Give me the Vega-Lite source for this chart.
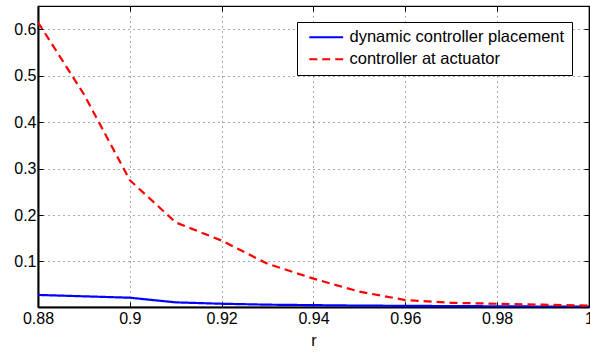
{
  "$schema": "https://vega.github.io/schema/vega-lite/v6.json",
  "width": 551,
  "height": 301,
  "autosize": {"type": "none"},
  "padding": {"left": 38, "top": 6, "right": 1, "bottom": 48},
  "background": "white",
  "config": {
    "font": "Liberation Sans",
    "view": {"stroke": "black", "strokeWidth": 1.2}
  },
  "data": {
    "values": [
      {"r": 0.88, "v": 0.028, "s": "dynamic controller placement"},
      {"r": 0.89, "v": 0.025, "s": "dynamic controller placement"},
      {"r": 0.90, "v": 0.022, "s": "dynamic controller placement"},
      {"r": 0.91, "v": 0.012, "s": "dynamic controller placement"},
      {"r": 0.92, "v": 0.009, "s": "dynamic controller placement"},
      {"r": 0.93, "v": 0.007, "s": "dynamic controller placement"},
      {"r": 0.94, "v": 0.006, "s": "dynamic controller placement"},
      {"r": 0.95, "v": 0.005, "s": "dynamic controller placement"},
      {"r": 0.96, "v": 0.0045, "s": "dynamic controller placement"},
      {"r": 0.97, "v": 0.004, "s": "dynamic controller placement"},
      {"r": 0.98, "v": 0.0035, "s": "dynamic controller placement"},
      {"r": 0.99, "v": 0.003, "s": "dynamic controller placement"},
      {"r": 1.00, "v": 0.003, "s": "dynamic controller placement"},
      {"r": 0.88, "v": 0.615, "s": "controller at actuator"},
      {"r": 0.89, "v": 0.46, "s": "controller at actuator"},
      {"r": 0.90, "v": 0.275, "s": "controller at actuator"},
      {"r": 0.91, "v": 0.184, "s": "controller at actuator"},
      {"r": 0.92, "v": 0.145, "s": "controller at actuator"},
      {"r": 0.93, "v": 0.095, "s": "controller at actuator"},
      {"r": 0.94, "v": 0.063, "s": "controller at actuator"},
      {"r": 0.95, "v": 0.035, "s": "controller at actuator"},
      {"r": 0.96, "v": 0.017, "s": "controller at actuator"},
      {"r": 0.97, "v": 0.011, "s": "controller at actuator"},
      {"r": 0.98, "v": 0.009, "s": "controller at actuator"},
      {"r": 0.99, "v": 0.007, "s": "controller at actuator"},
      {"r": 1.00, "v": 0.005, "s": "controller at actuator"}
    ]
  },
  "resolve": {"axis": {"x": "independent", "y": "independent"}},
  "layer": [
    {
      "mark": {"type": "line", "opacity": 0},
      "encoding": {
        "x": {
          "field": "r", "type": "quantitative",
          "scale": {"domain": [0.88, 1.0], "nice": false, "zero": false},
          "axis": {
            "orient": "top", "title": null, "labels": false, "grid": false,
            "values": [0.88, 0.9, 0.92, 0.94, 0.96, 0.98, 1.0],
            "tickSize": -5, "tickColor": "black", "domain": true, "domainColor": "black", "domainWidth": 1.2
          }
        },
        "y": {
          "field": "v", "type": "quantitative",
          "scale": {"domain": [0.002, 0.65], "nice": false, "zero": false},
          "axis": {
            "orient": "right", "title": null, "labels": false, "grid": false,
            "values": [0.1, 0.2, 0.3, 0.4, 0.5, 0.6],
            "tickSize": -5, "tickColor": "black", "domain": true, "domainColor": "black", "domainWidth": 1.2
          }
        }
      }
    },
    {
      "mark": {"type": "line", "strokeWidth": 2.2, "clip": true},
      "encoding": {
        "x": {
          "field": "r", "type": "quantitative",
          "scale": {"domain": [0.88, 1.0], "nice": false, "zero": false},
          "axis": {
            "orient": "bottom",
            "title": "r", "titleFont": "Liberation Sans", "titleFontWeight": "normal", "titleFontSize": 16, "titlePadding": 6,
            "values": [0.88, 0.9, 0.92, 0.94, 0.96, 0.98, 1.0],
            "labelExpr": "datum.value == 1 ? '1' : format(datum.value, '.2~f')",
            "labelFontSize": 16, "labelColor": "black", "labelPadding": 8, "labelFlush": false,
            "grid": true, "gridDash": [1, 4], "gridColor": "#555", "gridWidth": 1,
            "tickSize": -5, "tickColor": "black",
            "domain": true, "domainColor": "black", "domainWidth": 2
          }
        },
        "y": {
          "field": "v", "type": "quantitative",
          "scale": {"domain": [0.002, 0.65], "nice": false, "zero": false},
          "axis": {
            "orient": "left",
            "title": null,
            "values": [0.1, 0.2, 0.3, 0.4, 0.5, 0.6],
            "labelFontSize": 16, "labelColor": "black", "labelPadding": 7,
            "grid": true, "gridDash": [1, 4], "gridColor": "#555", "gridWidth": 1,
            "tickSize": -5, "tickColor": "black",
            "domain": true, "domainColor": "black", "domainWidth": 2
          }
        },
        "color": {
          "field": "s", "type": "nominal", "title": null,
          "scale": {"domain": ["dynamic controller placement", "controller at actuator"], "range": ["#0000ff", "#ff0000"]},
          "legend": {
            "title": null, "orient": "none", "legendX": 259, "legendY": 16,
            "symbolType": "M-1,0H10.3", "symbolSize": 36, "symbolStrokeWidth": 2.2,
            "labelFontSize": 16.5, "labelColor": "black", "labelLimit": 400, "labelOffset": 29,
            "strokeColor": "black", "fillColor": "white", "padding": 7, "rowPadding": 5
          }
        },
        "strokeDash": {
          "field": "s", "type": "nominal", "title": null,
          "scale": {"domain": ["dynamic controller placement", "controller at actuator"], "range": [[1, 0], [8, 5]]}
        }
      }
    }
  ]
}
